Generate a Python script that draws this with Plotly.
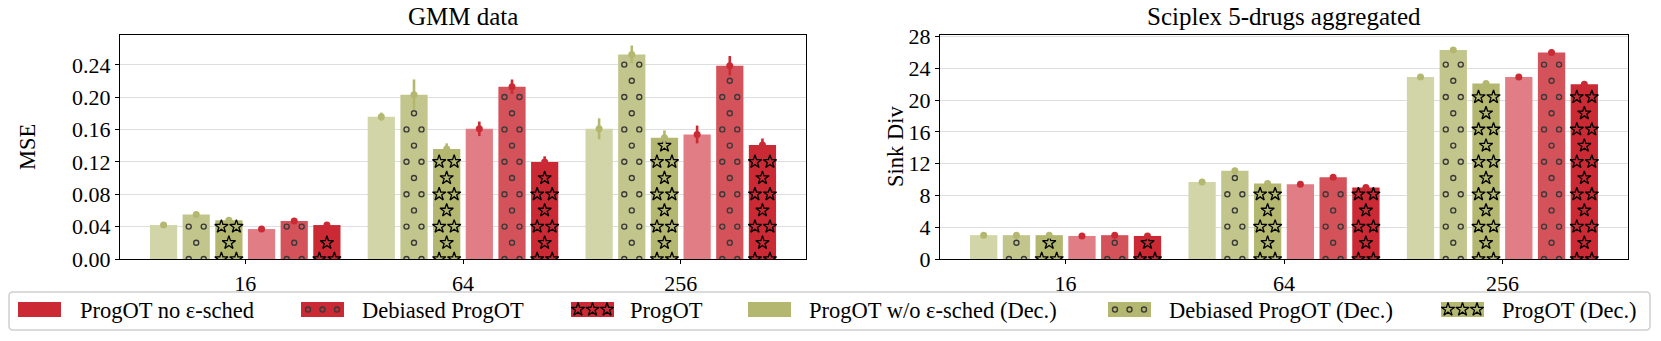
#!/usr/bin/env python3

import plotly.graph_objects as go

# ---------------------------------------------------------------- data
groups = ['16', '64', '256']

# order inside each group, left to right
methods = [
    'ProgOT w/o ε-sched (Dec.)',
    'Debiased ProgOT (Dec.)',
    'ProgOT (Dec.)',
    'ProgOT no ε-sched',
    'Debiased ProgOT',
    'ProgOT',
]

# GMM data, MSE
gmm_nosched_dec = [0.042, 0.176, 0.161]
gmm_debiased_dec = [0.055, 0.203, 0.253]
gmm_progot_dec = [0.048, 0.136, 0.150]
gmm_nosched = [0.037, 0.161, 0.154]
gmm_debiased = [0.047, 0.213, 0.239]
gmm_progot = [0.042, 0.120, 0.141]

gmm_nosched_dec_err = [0.002, 0.005, 0.013]
gmm_debiased_dec_err = [0.003, 0.019, 0.011]
gmm_progot_dec_err = [0.002, 0.007, 0.009]
gmm_nosched_err = [0.002, 0.009, 0.011]
gmm_debiased_err = [0.002, 0.009, 0.012]
gmm_progot_err = [0.002, 0.007, 0.008]

# Sciplex 5-drugs aggregated, Sinkhorn divergence
sci_nosched_dec = [3.0, 9.7, 22.9]
sci_debiased_dec = [3.0, 11.1, 26.3]
sci_progot_dec = [3.0, 9.5, 22.1]
sci_nosched = [2.9, 9.4, 22.9]
sci_debiased = [3.0, 10.3, 26.0]
sci_progot = [2.9, 9.0, 22.0]

sci_nosched_dec_err = [0.15, 0.2, 0.2]
sci_debiased_dec_err = [0.15, 0.2, 0.3]
sci_progot_dec_err = [0.15, 0.15, 0.2]
sci_nosched_err = [0.15, 0.2, 0.2]
sci_debiased_err = [0.15, 0.2, 0.3]
sci_progot_err = [0.15, 0.2, 0.2]

gmm_ticks = [0.00, 0.04, 0.08, 0.12, 0.16, 0.20, 0.24]
sci_ticks = [0, 4, 8, 12, 16, 20, 24, 28]

# ---------------------------------------------------------------- style
W, H = 1661, 341
AX_TOP, AX_BOT = 35, 259
LEFT_DOM = (120, 806)
RIGHT_DOM = (940, 1628)
X_RANGE = [-0.575, 2.575]
BAR_W = 0.125
PITCH = 0.15

OLIVE = '#b3b76f'
RED = '#cb2a35'
fills = ['#d2d5a8', '#c3c68c', OLIVE, '#e07d85', '#d4535b', RED]
bases = [OLIVE, OLIVE, OLIVE, RED, RED, RED]
hatch = ['', 'dots', 'stars', '', 'dots', 'stars']

FONT = 'Liberation Serif, Times New Roman, serif'
TICK_SIZE = 22
LABEL_SIZE = 22.5
TITLE_SIZE = 25

STAR = dict(symbol='star-open', size=10, color='black',
            line=dict(width=1.3, color='black'))
DOT = dict(symbol='circle-open', size=5, color='#3a3a3a',
           line=dict(width=1.4, color='#3a3a3a'))


def hatch_points(xs, tops, x_per_px, y_per_px):
    '''Staggered lattice of hatch marks inside each bar.'''
    px_x, px_y = [], []
    for xc, top in zip(xs, tops):
        top_px = top / y_per_px
        k = 0
        while k * 16.2 <= top_px - 4:
            y = k * 16.2 * y_per_px
            offs = [-7.5, 7.5] if k % 2 == 0 else [0.0]
            for o in offs:
                px_x.append(xc + o * x_per_px)
                px_y.append(y)
            k += 1
    return px_x, px_y


def add_panel(fig, series, errors, xa, ya, ymax, dom):
    x_per_px = (X_RANGE[1] - X_RANGE[0]) / (dom[1] - dom[0])
    y_per_px = ymax / (AX_BOT - AX_TOP)
    for i, vals in enumerate(series):
        off = (i - 2.5) * PITCH
        xs = [g + off for g in range(len(groups))]
        fig.add_trace(go.Bar(
            x=xs, y=vals, width=BAR_W,
            marker=dict(color=fills[i], line=dict(width=0)),
            xaxis=xa, yaxis=ya, showlegend=False, name=methods[i],
        ))
        if hatch[i]:
            hx, hy = hatch_points(xs, vals, x_per_px, y_per_px)
            fig.add_trace(go.Scatter(
                x=hx, y=hy, mode='markers',
                marker=STAR if hatch[i] == 'stars' else DOT,
                xaxis=xa, yaxis=ya, showlegend=False, hoverinfo='skip',
            ))
    for i, (vals, errs) in enumerate(zip(series, errors)):
        off = (i - 2.5) * PITCH
        xs = [g + off for g in range(len(groups))]
        fig.add_trace(go.Scatter(
            x=xs, y=vals, mode='markers',
            marker=dict(size=7, color=bases[i]),
            error_y=dict(type='data', array=errs, thickness=2.6, width=0,
                         color=bases[i]),
            xaxis=xa, yaxis=ya, showlegend=False, name=methods[i],
        ))


def main() -> int:
    fig = go.Figure()

    gmm = [gmm_nosched_dec, gmm_debiased_dec, gmm_progot_dec,
           gmm_nosched, gmm_debiased, gmm_progot]
    gmm_err = [gmm_nosched_dec_err, gmm_debiased_dec_err, gmm_progot_dec_err,
               gmm_nosched_err, gmm_debiased_err, gmm_progot_err]
    sci = [sci_nosched_dec, sci_debiased_dec, sci_progot_dec,
           sci_nosched, sci_debiased, sci_progot]
    sci_err = [sci_nosched_dec_err, sci_debiased_dec_err, sci_progot_dec_err,
               sci_nosched_err, sci_debiased_err, sci_progot_err]

    gmm_max, sci_max = 0.277, 28.2
    add_panel(fig, gmm, gmm_err, 'x', 'y', gmm_max, LEFT_DOM)
    add_panel(fig, sci, sci_err, 'x2', 'y2', sci_max, RIGHT_DOM)

    ydom = [1 - AX_BOT / H, 1 - AX_TOP / H]
    common_x = dict(
        range=X_RANGE, tickvals=[0, 1, 2], ticktext=groups,
        ticks='outside', ticklen=4, tickcolor='black',
        showline=True, mirror=True, linecolor='black', linewidth=1.3,
        showgrid=False, zeroline=False, tickfont=dict(size=TICK_SIZE),
        automargin=False,
    )
    common_y = dict(
        ticks='outside', ticklen=4, tickcolor='black',
        showline=True, mirror=True, linecolor='black', linewidth=1.3,
        showgrid=True, gridcolor='#dedede', gridwidth=1, zeroline=False,
        tickfont=dict(size=TICK_SIZE), domain=ydom, automargin=False,
    )

    fig.update_layout(
        width=W, height=H, autosize=False,
        margin=dict(l=0, r=0, t=0, b=0, pad=0, autoexpand=False),
        paper_bgcolor='white', plot_bgcolor='rgba(0,0,0,0)',
        font=dict(family=FONT, size=LABEL_SIZE, color='black'),
        barmode='overlay', showlegend=False,
        xaxis=dict(common_x, domain=[LEFT_DOM[0] / W, LEFT_DOM[1] / W], anchor='y'),
        yaxis=dict(common_y, range=[0, gmm_max], tickvals=gmm_ticks,
                   tickformat='.2f', anchor='x'),
        xaxis2=dict(common_x, domain=[RIGHT_DOM[0] / W, RIGHT_DOM[1] / W], anchor='y2'),
        yaxis2=dict(common_y, range=[0, sci_max], tickvals=sci_ticks, anchor='x2'),
        # pixel-space overlay used for titles and the legend
        xaxis3=dict(domain=[0, 1], range=[0, W], anchor='y3', visible=False,
                    fixedrange=True, automargin=False),
        yaxis3=dict(domain=[0, 1], range=[H, 0], anchor='x3', visible=False,
                    fixedrange=True, automargin=False),
    )

    ann = [
        dict(x=sum(LEFT_DOM) / 2, y=16, text='GMM data',
             font=dict(size=TITLE_SIZE)),
        dict(x=sum(RIGHT_DOM) / 2, y=16, text='Sciplex 5-drugs aggregated',
             font=dict(size=TITLE_SIZE)),
        dict(x=27, y=(AX_TOP + AX_BOT) / 2, text='MSE', textangle=-90),
        dict(x=895, y=(AX_TOP + AX_BOT) / 2, text='Sink Div', textangle=-90),
    ]
    for a in ann:
        fig.add_annotation(xref='x3', yref='y3', showarrow=False, **a)

    # legend, drawn by hand so swatches can carry the hatch marks
    fig.add_shape(
        type='path', xref='x3', yref='y3', layer='below',
        path='M 13 292 L 1646 292 Q 1650 292 1650 296 L 1650 326 '
             'Q 1650 330 1646 330 L 13 330 Q 9 330 9 326 L 9 296 Q 9 292 13 292 Z',
        line=dict(color='#cfcfcf', width=1.5), fillcolor='white',
    )
    leg_labels = ['ProgOT no ε-sched', 'Debiased ProgOT', 'ProgOT',
                  'ProgOT w/o ε-sched (Dec.)', 'Debiased ProgOT (Dec.)',
                  'ProgOT (Dec.)']
    leg_colors = [RED, RED, RED, OLIVE, OLIVE, OLIVE]
    leg_hatch = ['', 'dots', 'stars', '', 'dots', 'stars']
    leg_x = [18, 301, 571, 748, 1108, 1441]
    leg_text_x = [78, 360, 628, 807, 1167, 1500]
    for lx, tx, lab, col, hk in zip(leg_x, leg_text_x, leg_labels,
                                     leg_colors, leg_hatch):
        fig.add_shape(type='rect', xref='x3', yref='y3', layer='below',
                      x0=lx, x1=lx + 43, y0=302, y1=317,
                      fillcolor=col, line=dict(width=0))
        fig.add_annotation(xref='x3', yref='y3', x=tx, y=310, text=lab,
                           showarrow=False, xanchor='left')
        if hk:
            fig.add_trace(go.Scatter(
                x=[lx + 7, lx + 21.5, lx + 36], y=[309.5] * 3, mode='markers',
                marker=STAR if hk == 'stars' else DOT,
                xaxis='x3', yaxis='y3', showlegend=False, hoverinfo='skip'))

    # the page body has a default margin; drop it so the figure sits at 0,0
    fig.write_html('out.html',
                   config={'displayModeBar': False},
                   post_script="document.body.style.margin = '0';")
    return 0


if __name__ == '__main__':
    main()
